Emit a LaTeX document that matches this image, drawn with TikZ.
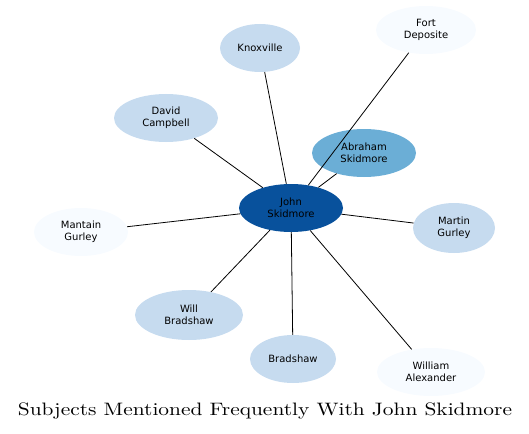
\documentclass[tikz,border=0pt]{standalone}
\usepackage{fontspec}
\newfontfamily\nodefont{DejaVu Sans}
\newfontfamily\titlefont{lmroman10-regular.otf}
\definecolor{hub}{HTML}{08519C}
\definecolor{mid}{HTML}{6BAED6}
\definecolor{pale}{HTML}{C6DBEF}
\definecolor{faint}{HTML}{F7FBFF}
\tikzset{
  subj/.style={ellipse, minimum height=48pt, align=center, inner sep=1pt,
    font=\nodefont\fontsize{10}{12}\selectfont},
  link/.style={line width=0.8pt}
}
\usetikzlibrary{shapes.geometric}
\begin{document}
\begin{tikzpicture}[x=1pt,y=-1pt]
\useasboundingbox (0,0) rectangle (529,433);
\node[subj, fill=hub, minimum width=104pt] at (291,208) (john) {John\\Skidmore};
\node[subj, fill=mid, minimum width=104pt] at (364,153) (abraham) {Abraham\\Skidmore};
\node[subj, fill=pale, minimum width=80pt] at (260,48) (knox) {Knoxville};
\node[subj, fill=faint, minimum width=100pt] at (426,30) (fort) {Fort\\Deposite};
\node[subj, fill=pale, minimum width=104pt] at (166,118) (david) {David\\Campbell};
\node[subj, fill=faint, minimum width=94pt] at (81,232) (mantain) {Mantain\\Gurley};
\node[subj, fill=pale, minimum width=82pt, minimum height=50pt] at (454,228) (martin) {Martin\\Gurley};
\node[subj, fill=pale, minimum width=108pt, minimum height=50pt] at (189,315) (will) {Will\\Bradshaw};
\node[subj, fill=pale, minimum width=86pt] at (293,359) (brad) {Bradshaw};
\node[subj, fill=faint, minimum width=108pt] at (431,372) (william) {William\\Alexander};
\node[xscale=1.19, transform shape] at (265,411) (title) {\titlefont\fontsize{18}{20}\selectfont Subjects Mentioned Frequently With John Skidmore};
\draw (john) edge[link] (abraham);
\draw (john) edge[link] (knox);
\draw (john) edge[link] (fort);
\draw (john) edge[link] (david);
\draw (john) edge[link] (mantain);
\draw (john) edge[link] (martin);
\draw (john) edge[link] (will);
\draw (john) edge[link] (brad);
\draw (john) edge[link] (william);
\end{tikzpicture}
\end{document}
